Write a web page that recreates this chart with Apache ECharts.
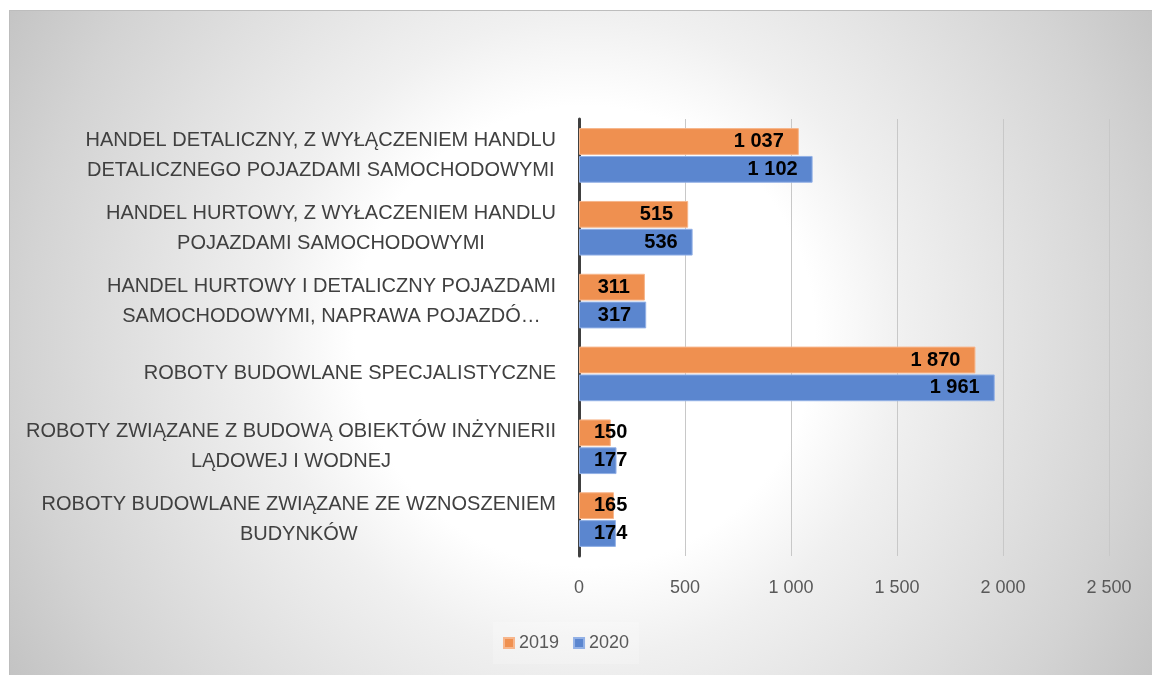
<!DOCTYPE html>
<html>
<head>
<meta charset="utf-8">
<script src="https://cdn.jsdelivr.net/npm/echarts@6/dist/echarts.min.js"></script>
<style>
  html, body { margin: 0; padding: 0; background: #ffffff; }
  #frame {
    position: absolute; left: 9px; top: 10px; width: 1143px; height: 665px;
    box-sizing: border-box;
    border-top: 1px solid #bdbdbd; border-left: 1px solid #bdbdbd;
    background: radial-gradient(circle 670px at 575px 325px, #ffffff 0px, #ffffff 230px, #f0f0f0 320px, #d3d3d3 560px, #c3c3c3 670px);
  }
  #chart { position: absolute; left: 0; top: 0; width: 1152px; height: 675px; }
</style>
</head>
<body>
<div id="frame"></div>
<div id="chart"></div>
<script>
const categories = [
  "HANDEL DETALICZNY, Z WYŁĄCZENIEM HANDLU\nDETALICZNEGO POJAZDAMI SAMOCHODOWYMI",
  "HANDEL HURTOWY, Z WYŁACZENIEM HANDLU\nPOJAZDAMI SAMOCHODOWYMI",
  "HANDEL HURTOWY I DETALICZNY POJAZDAMI\nSAMOCHODOWYMI, NAPRAWA POJAZDÓ…",
  "ROBOTY BUDOWLANE SPECJALISTYCZNE",
  "ROBOTY ZWIĄZANE Z BUDOWĄ OBIEKTÓW INŻYNIERII\nLĄDOWEJ I WODNEJ",
  "ROBOTY BUDOWLANE ZWIĄZANE ZE WZNOSZENIEM\nBUDYNKÓW"
];
const seriesNames = ["2019", "2020"];
const values2019 = [1037, 515, 311, 1870, 150, 165];
const values2020 = [1102, 536, 317, 1961, 177, 174];
const axisMin = 0, axisMax = 2500, axisInterval = 500;

const FONT = "'Liberation Sans', Arial, sans-serif";
const fmt = n => String(n).replace(/\B(?=(\d{3})+(?!\d))/g, ' ');
const SMALL = 250; // bars too short to hold their label inside the end

function buildData(vals) {
  return vals.map(v => v < SMALL
    ? { value: v, label: { position: 'insideLeft', distance: 15 } }
    : { value: v });
}

const labelStyle = {
  show: true, position: 'insideRight', distance: 15,
  formatter: p => fmt(p.value),
  color: '#000000', fontFamily: FONT, fontWeight: 'bold', fontSize: 20
};

const chart = echarts.init(document.getElementById('chart'), null, { renderer: 'canvas' });
chart.setOption({
  backgroundColor: 'transparent',
  animation: false,
  grid: { left: 579, right: 43, top: 119, bottom: 119, containLabel: false },
  legend: {
    data: seriesNames,
    left: 493, top: 622,
    itemWidth: 10, itemHeight: 10, itemGap: 14,
    padding: [12, 10, 12, 10],
    backgroundColor: 'rgba(255,255,255,0.22)',
    icon: 'rect',
    textStyle: { color: '#595959', fontSize: 18, fontFamily: FONT, padding: [0, 0, 0, 0] }
  },
  xAxis: {
    type: 'value', min: axisMin, max: axisMax, interval: axisInterval,
    axisLine: { show: false }, axisTick: { show: false },
    splitLine: { show: true, lineStyle: { color: '#c8c8c8', width: 1 } },
    axisLabel: { color: '#595959', fontSize: 18, fontFamily: FONT, margin: 23, formatter: v => fmt(v) }
  },
  yAxis: {
    type: 'category', data: categories, inverse: true,
    axisLine: { show: true, lineStyle: { color: '#404040', width: 3 } },
    axisTick: { show: false },
    axisLabel: {
      margin: 23, align: 'right',
      formatter: v => v.split('\n').map(l => '{c|' + l + '}').join('\n'),
      rich: { c: { align: 'center', fontSize: 20, lineHeight: 30, color: '#404040', fontFamily: FONT } }
    }
  },
  series: [
    {
      name: seriesNames[0], type: 'bar', data: buildData(values2019),
      barCategoryGap: '25%', barGap: '4%',
      itemStyle: { color: '#EF9050', borderColor: '#F7B68C', borderWidth: 1 },
      label: labelStyle, z: 2
    },
    {
      name: seriesNames[1], type: 'bar', data: buildData(values2020),
      barCategoryGap: '25%', barGap: '4%',
      itemStyle: { color: '#5B86CF', borderColor: '#93B1E6', borderWidth: 1 },
      label: labelStyle, z: 2
    }
  ]
});
</script>
</body>
</html>
